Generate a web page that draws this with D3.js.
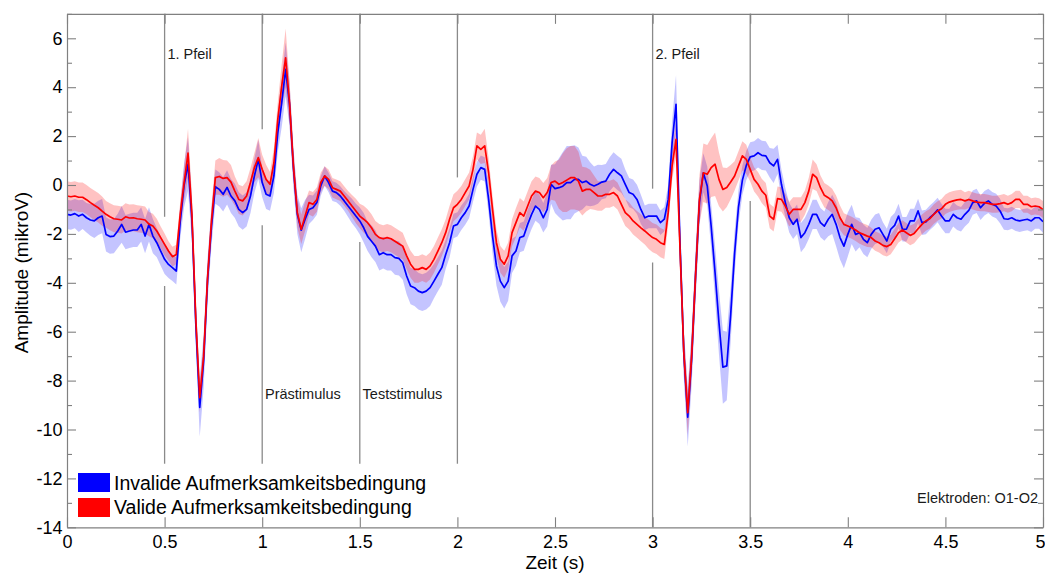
<!DOCTYPE html>
<html><head><meta charset="utf-8">
<script src="https://cdn.jsdelivr.net/npm/d3@7"></script>
<style>
body{margin:0;background:#fff}
svg{display:block;font-family:"Liberation Sans",Arial,Helvetica,sans-serif}
</style></head><body>
<svg id="chart" width="1045" height="573"></svg>
<script>
// ---- data (time grid: 0 .. 5 s, step 0.02 s) ----
const sampleStep = 0.02;

const invalidMean = [
-1.2,-1.23,-1.17,-1.27,-1.2,-1.34,-1.43,-1.47,-1.34,-1.27,
-2.02,-2.11,-2.09,-1.88,-1.61,-1.93,-1.88,-1.84,-1.84,-1.61,
-2.09,-1.61,-2.09,-2.36,-2.7,-3.04,-3.25,-3.38,-3.52,-1.5,
0.0,0.85,-1.4,-5.7,-9.1,-7.2,-3.9,-1.7,-0.07,-0.18,
-0.38,-0.1,-0.45,-0.65,-1.0,-1.13,-1.0,-0.45,0.37,1.05,
0.1,-0.38,-0.45,0.37,2.14,3.37,4.73,3.3,0.7,-1.2,
-1.85,-1.4,-1.0,-0.93,-0.72,-0.04,0.37,0.1,-0.25,-0.31,
-0.45,-0.65,-0.86,-1.06,-1.27,-1.47,-1.75,-2.1,-2.3,-2.5,
-2.85,-2.77,-2.85,-2.85,-2.97,-3.0,-3.18,-3.72,-4.13,-4.2,
-4.34,-4.4,-4.34,-4.2,-3.93,-3.65,-3.38,-2.84,-2.36,-1.68,
-1.61,-1.34,-1.13,-0.86,-0.18,0.44,0.71,0.64,-0.59,-2.09,
-3.31,-3.93,-4.2,-3.93,-2.9,-2.7,-2.15,-2.09,-1.61,-1.2,
-0.86,-1.0,-1.34,-1.0,0.03,-0.15,-0.11,-0.05,0.1,0.1,
0.23,0.23,0.1,0.16,0.03,-0.04,0.03,0.12,0.16,0.44,
0.64,0.5,0.37,0.03,-0.31,-0.38,-0.59,-1.0,-1.34,-1.27,
-1.27,-1.27,-1.54,-1.4,-0.59,1.73,3.3,-2.3,-6.9,-9.5,
-7.1,-3.72,-0.7,0.5,-0.04,-1.68,-3.59,-5.63,-7.45,-7.4,
-5.3,-2.8,-0.9,0.2,0.8,1.15,1.19,1.32,1.21,1.19,
0.91,0.78,1.05,0.03,-0.72,-1.34,-1.61,-1.4,-2.15,-1.95,
-1.61,-1.2,-1.2,-1.54,-1.68,-1.4,-1.2,-1.61,-2.15,-2.5,
-2.02,-1.61,-2.02,-1.95,-2.22,-2.36,-2.02,-1.81,-1.75,-2.02,
-2.29,-1.81,-1.65,-1.27,-1.81,-1.81,-1.47,-1.47,-1.06,-1.54,
-1.51,-1.34,-1.2,-1.02,-1.27,-1.47,-1.47,-1.2,-1.34,-1.4,
-1.2,-1.04,-0.72,-0.65,-0.93,-0.75,-0.65,-0.79,-0.86,-1.06,
-1.38,-1.4,-1.34,-1.43,-1.47,-1.43,-1.4,-1.47,-1.34,-1.34,
-1.5];

const validMean = [
-0.45,-0.48,-0.45,-0.5,-0.5,-0.6,-0.72,-0.83,-0.93,-1.07,
-1.2,-1.3,-1.38,-1.4,-1.43,-1.3,-1.35,-1.34,-1.38,-1.4,
-1.43,-1.6,-1.68,-1.88,-2.15,-2.43,-2.7,-2.93,-2.84,-1.2,
0.1,1.3,-1.2,-5.5,-8.7,-7.0,-3.8,-1.5,0.3,0.35,
0.27,0.3,0.12,-0.25,-0.59,-0.65,-0.45,0.1,0.71,1.12,
0.64,0.23,0.03,0.91,2.7,4.05,5.2,3.37,0.78,-1.13,
-1.81,-1.27,-0.72,-0.79,-0.59,0.1,0.37,0.23,-0.11,-0.18,
-0.25,-0.45,-0.65,-0.86,-1.06,-1.27,-1.4,-1.54,-1.75,-2.02,
-2.15,-2.2,-2.15,-2.2,-2.3,-2.4,-2.5,-2.9,-3.24,-3.45,
-3.45,-3.38,-3.45,-3.31,-3.04,-2.7,-2.36,-1.95,-1.4,-0.93,
-0.79,-0.59,-0.31,-0.04,0.64,1.6,1.46,1.6,0.5,-1.0,
-2.36,-3.04,-3.24,-2.9,-1.95,-1.54,-1.13,-1.27,-0.86,-0.45,
-0.25,-0.31,-0.52,-0.31,0.1,0.16,0.03,0.1,0.2,0.3,
0.3,0.16,-0.25,-0.18,-0.18,-0.31,-0.45,-0.45,-0.38,-0.38,
-0.31,-0.45,-0.79,-1.13,-1.27,-1.47,-1.61,-1.75,-1.88,-2.02,
-2.15,-2.22,-2.36,-2.43,-1.13,0.78,1.87,-2.5,-6.86,-9.31,
-7.0,-3.72,-0.59,0.5,0.44,0.71,0.85,0.23,-0.18,-0.1,
0.12,0.37,0.78,1.19,1.05,0.64,0.23,0.03,-0.25,-0.42,
-1.27,-1.4,-0.56,-0.59,-0.86,-1.2,-1.0,-1.0,-1.0,-0.72,
-0.25,0.44,0.3,-0.11,-0.42,-0.52,-0.65,-0.93,-1.34,-1.61,
-1.68,-1.75,-1.84,-1.95,-2.02,-2.09,-2.15,-2.29,-2.36,-2.47,
-2.52,-2.43,-2.2,-1.95,-1.84,-1.95,-2.06,-1.98,-1.79,-1.61,
-1.47,-1.38,-1.2,-1.06,-0.97,-0.79,-0.7,-0.65,-0.61,-0.59,
-0.65,-0.59,-0.65,-0.7,-0.72,-0.72,-0.75,-0.79,-0.79,-0.76,
-0.72,-0.79,-0.72,-0.59,-0.59,-0.79,-0.79,-0.89,-0.86,-0.89,
-1.0];

// half-width of the shaded error band
const invalidErr = [
0.6,0.6,0.6,0.65,0.6,0.6,0.65,0.7,0.7,0.7,
0.7,0.7,0.7,0.7,0.75,0.7,0.7,0.7,0.7,0.7,
0.7,0.7,0.7,0.6,0.6,0.6,0.55,0.55,0.55,0.7,
0.9,1.1,0.9,0.9,1.2,1.1,0.9,0.8,0.7,0.7,
0.7,0.7,0.7,0.7,0.7,0.7,0.7,0.7,0.7,0.8,
0.6,0.6,0.6,0.7,0.8,1.0,1.1,0.9,0.8,0.8,
0.9,0.8,0.6,0.5,0.5,0.4,0.4,0.4,0.4,0.4,
0.4,0.4,0.45,0.5,0.5,0.55,0.6,0.6,0.65,0.65,
0.65,0.65,0.65,0.65,0.7,0.7,0.7,0.75,0.75,0.75,
0.75,0.75,0.75,0.75,0.7,0.7,0.7,0.6,0.6,0.5,
0.5,0.5,0.5,0.5,0.5,0.5,0.5,0.5,0.6,0.7,
0.8,0.85,0.85,0.8,0.7,0.6,0.6,0.6,0.6,0.6,
0.6,0.6,0.6,0.7,0.8,1.0,1.2,1.4,1.5,1.5,
1.4,1.3,1.1,1.0,0.9,0.8,0.8,0.7,0.7,0.7,
0.7,0.7,0.7,0.6,0.6,0.6,0.6,0.6,0.5,0.5,
0.5,0.5,0.5,0.5,0.6,0.9,1.2,1.0,1.0,1.2,
1.1,1.0,0.9,0.8,0.8,0.9,1.1,1.3,1.5,1.4,
1.1,0.9,0.7,0.6,0.6,0.6,0.6,0.6,0.6,0.6,
0.6,0.7,0.6,0.6,0.6,0.6,0.6,0.6,0.6,0.6,
0.6,0.6,0.6,0.6,0.6,0.7,0.8,0.9,0.9,0.9,
0.9,0.8,0.7,0.6,0.6,0.6,0.6,0.6,0.6,0.5,
0.5,0.5,0.5,0.5,0.5,0.5,0.5,0.5,0.5,0.5,
0.5,0.5,0.5,0.5,0.5,0.5,0.5,0.5,0.5,0.5,
0.5,0.5,0.5,0.5,0.5,0.5,0.5,0.5,0.5,0.5,
0.45,0.45,0.45,0.45,0.45,0.45,0.45,0.45,0.45,0.45,
0.45];

const validErr = [
0.6,0.6,0.6,0.6,0.6,0.6,0.6,0.6,0.6,0.6,
0.55,0.55,0.55,0.55,0.55,0.55,0.55,0.55,0.55,0.55,
0.55,0.5,0.5,0.5,0.45,0.45,0.4,0.4,0.4,0.5,
0.7,1.0,0.8,0.7,0.6,0.6,0.6,0.6,0.7,0.75,
0.75,0.7,0.7,0.6,0.6,0.6,0.6,0.6,0.6,0.8,
0.6,0.6,0.5,0.6,0.7,0.9,1.2,0.9,0.7,0.6,
0.6,0.6,0.5,0.5,0.5,0.4,0.4,0.4,0.4,0.4,
0.4,0.4,0.4,0.45,0.5,0.5,0.55,0.55,0.55,0.55,
0.55,0.55,0.55,0.55,0.55,0.55,0.55,0.55,0.55,0.55,
0.55,0.55,0.55,0.55,0.55,0.55,0.55,0.55,0.55,0.55,
0.55,0.55,0.55,0.55,0.55,0.55,0.6,0.7,0.6,0.55,
0.55,0.55,0.55,0.55,0.55,0.6,0.6,0.6,0.6,0.6,
0.6,0.6,0.6,0.6,0.7,0.8,1.0,1.2,1.3,1.3,
1.3,1.2,1.0,0.9,0.8,0.7,0.6,0.6,0.55,0.55,
0.55,0.55,0.55,0.55,0.55,0.55,0.55,0.55,0.55,0.6,
0.6,0.6,0.6,0.6,0.5,0.6,0.7,0.9,0.9,0.9,
0.9,0.9,1.0,1.2,1.2,1.2,1.3,1.1,0.9,0.8,
0.7,0.6,0.6,0.6,0.6,0.5,0.5,0.5,0.5,0.5,
0.5,0.5,0.5,0.5,0.5,0.5,0.5,0.5,0.5,0.5,
0.55,0.6,0.55,0.5,0.5,0.5,0.5,0.5,0.5,0.45,
0.45,0.45,0.45,0.45,0.45,0.45,0.4,0.4,0.4,0.4,
0.4,0.4,0.4,0.4,0.4,0.4,0.4,0.4,0.4,0.4,
0.4,0.4,0.4,0.4,0.4,0.4,0.4,0.4,0.4,0.4,
0.35,0.35,0.35,0.35,0.35,0.35,0.35,0.35,0.35,0.35,
0.35,0.35,0.35,0.35,0.35,0.35,0.35,0.35,0.35,0.35,
0.35];

const seriesNames = ["Invalide Aufmerksamkeitsbedingung", "Valide Aufmerksamkeitsbedingung"];
const seriesColors = ["#0000ff", "#ff0000"];

const xTickValues = [0, 0.5, 1, 1.5, 2, 2.5, 3, 3.5, 4, 4.5, 5];
const yTickValues = [-14, -12, -10, -8, -6, -4, -2, 0, 2, 4, 6];
const yMinorTickValues = [-13, -11, -9, -7, -5, -3, -1, 1, 3, 5, 7];

// event marker lines (s) and the amplitude range where each line is interrupted
const eventTimes = [0.5, 1, 1.5, 2, 3, 3.5];
const eventGapUpper = [-1.3, 2.28, -0.04, 0.31, -0.15, 2.15];
const eventGapLower = [-4.13, -1.65, -2.33, -3.27, -3.17, -0.65];
const eventLowEnd = [-11.4, -11.4, -11.4, -11.4, -14, -14];

const annotationTexts = ["1. Pfeil", "Prästimulus", "Teststimulus", "2. Pfeil"];
const annotationTimes = [0.5, 1, 1.5, 3];
const annotationLevels = [5.14, -8.74, -8.74, 5.14];
const electrodeNote = "Elektroden: O1-O2";

const xLabel = "Zeit (s)";
const yLabel = "Amplitude (mikroV)";

// ---- drawing ----
(function draw() {
const svg = d3.select("#chart");
const W = 1045, H = 573;
const pLeft = 67, pRight = 1043, pTop = 13.85, pBottom = 527.3;
const x = d3.scaleLinear().domain([0, 5]).range([pLeft, pRight]);
const y = d3.scaleLinear().domain([-14, 7]).range([pBottom, pTop]);
const axisColor = "#808080";

svg.append("rect").attr("width", W).attr("height", H).attr("fill", "#fff");

svg.append("defs").append("clipPath").attr("id", "plotclip")
  .append("rect").attr("x", pLeft).attr("y", pTop).attr("width", pRight - pLeft).attr("height", pBottom - pTop);

const times = validMean.map((_, i) => +(i * sampleStep).toFixed(2));

// event lines
const ev = svg.append("g").attr("stroke", "#8a8a8a").attr("stroke-width", 1.3);
eventTimes.forEach((t, i) => {
  ev.append("line").attr("x1", x(t)).attr("x2", x(t)).attr("y1", y(7)).attr("y2", y(eventGapUpper[i]));
  ev.append("line").attr("x1", x(t)).attr("x2", x(t)).attr("y1", y(eventGapLower[i])).attr("y2", y(eventLowEnd[i]));
});

// data
const plot = svg.append("g").attr("clip-path", "url(#plotclip)");
const series = [
  {mean: invalidMean, err: invalidErr, color: seriesColors[0], alpha: 0.23},
  {mean: validMean, err: validErr, color: seriesColors[1], alpha: 0.24}
];
series.forEach(s => {
  const pts = times.map((t, i) => ({t, m: s.mean[i], e: s.err[i]}));
  plot.append("path").datum(pts)
    .attr("fill", s.color).attr("fill-opacity", s.alpha).attr("stroke", "none")
    .attr("d", d3.area().x(d => x(d.t)).y0(d => y(d.m - d.e)).y1(d => y(d.m + d.e)));
});
series.forEach(s => {
  const pts = times.map((t, i) => ({t, m: s.mean[i]}));
  plot.append("path").datum(pts)
    .attr("fill", "none").attr("stroke", s.color).attr("stroke-width", 1.7)
    .attr("stroke-linejoin", "round")
    .attr("d", d3.line().x(d => x(d.t)).y(d => y(d.m)));
});

// axes
function styleAxis(g) {
  g.selectAll("path.domain").attr("stroke", axisColor).attr("stroke-width", 1.2);
  g.selectAll(".tick line").attr("stroke", axisColor).attr("stroke-width", 1.1);
  g.selectAll(".tick text").attr("fill", "#000").style("font-size", "18px")
    .style("font-family", '"Liberation Sans", Arial, sans-serif');
}
const xAxisG = svg.append("g").attr("transform", `translate(0,${pBottom})`)
  .call(d3.axisBottom(x).tickValues(xTickValues).tickSizeInner(-10).tickSizeOuter(0).tickPadding(8).tickFormat(d => String(d)))
  .call(styleAxis);
// last label sits against the right edge of the figure
xAxisG.selectAll(".tick text").filter(d => d === xTickValues[xTickValues.length - 1])
  .attr("text-anchor", "end").attr("x", 1045 - pRight);
svg.append("g").attr("transform", `translate(0,${pTop})`)
  .call(d3.axisTop(x).tickValues(xTickValues).tickSizeInner(-10).tickSizeOuter(0).tickFormat(""))
  .call(styleAxis);
svg.append("g").attr("transform", `translate(${pLeft},0)`)
  .call(d3.axisLeft(y).tickValues(yTickValues).tickSizeInner(-9).tickSizeOuter(0).tickPadding(4.5).tickFormat(d => String(d)))
  .call(styleAxis);
svg.append("g").attr("transform", `translate(${pLeft},0)`)
  .call(d3.axisLeft(y).tickValues(yMinorTickValues).tickSizeInner(-5).tickSizeOuter(0).tickFormat(""))
  .call(g => g.select("path.domain").remove()).call(styleAxis);
svg.append("g").attr("transform", `translate(${pRight},0)`)
  .call(d3.axisRight(y).tickValues(yTickValues).tickSizeInner(-9).tickSizeOuter(0).tickFormat(""))
  .call(styleAxis);
svg.append("g").attr("transform", `translate(${pRight},0)`)
  .call(d3.axisRight(y).tickValues(yMinorTickValues).tickSizeInner(-5).tickSizeOuter(0).tickFormat(""))
  .call(g => g.select("path.domain").remove()).call(styleAxis);

// axis labels
svg.append("text").attr("x", x(2.5)).attr("y", 569).attr("text-anchor", "middle")
  .style("font-size", "19px").attr("fill", "#000").text(xLabel);
svg.append("text").attr("transform", `translate(28,${(y(-14) + y(7)) / 2 + 2}) rotate(-90)`)
  .attr("text-anchor", "middle").style("font-size", "19px").attr("fill", "#000").text(yLabel);

// annotations
annotationTexts.forEach((txt, i) => {
  svg.append("text").attr("x", x(annotationTimes[i]) + 2.8).attr("y", y(annotationLevels[i]))
    .style("font-size", "14.5px").attr("fill", "#1a1a1a").text(txt);
});
svg.append("text").attr("x", 1038).attr("y", 502.5).attr("text-anchor", "end")
  .style("font-size", "14.5px").attr("fill", "#1a1a1a").text(electrodeNote);

// legend
const lg = svg.append("g");
seriesNames.forEach((name, i) => {
  lg.append("rect").attr("x", 78).attr("y", 473 + i * 25).attr("width", 32).attr("height", 19)
    .attr("fill", seriesColors[i]);
  lg.append("text").attr("x", 114).attr("y", 489.5 + i * 24.5)
    .style("font-size", "19.5px").attr("fill", "#000").text(name);
});
})();
</script>
</body></html>
